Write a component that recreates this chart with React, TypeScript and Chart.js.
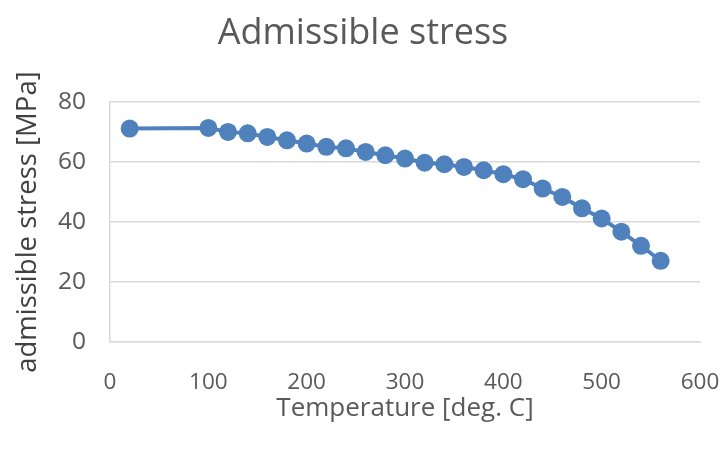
import React, { useEffect, useRef } from "react";
import { Chart, registerables } from "chart.js";

Chart.register(...registerables);

const temperatures = [20, 100, 120, 140, 160, 180, 200, 220, 240, 260, 280, 300, 320, 340, 360, 380, 400, 420, 440, 460, 480, 500, 520, 540, 560];
const stress = [71.2, 71.4, 70.1, 69.6, 68.4, 67.3, 66.2, 65.1, 64.6, 63.4, 62.3, 61.2, 59.8, 59.3, 58.4, 57.3, 56.0, 54.3, 51.2, 48.4, 44.6, 41.2, 36.8, 32.1, 27.1];
const chartTitle = "Admissible stress";
const xTitle = "Temperature [deg. C]";
const yTitle = "admissible stress [MPa]";

const FONT = "'Open Sans', sans-serif";
const BLUE = "#4f81bd";
const GRID = "#d9d9d9";
const TEXT = "#595959";

export default function App() {
  const ref = useRef<HTMLCanvasElement | null>(null);
  useEffect(() => {
    document.body.style.margin = "0";
    const canvas = ref.current;
    if (!canvas) return;
    const chart = new Chart(canvas, {
      type: "scatter",
      data: {
        datasets: [
          {
            data: temperatures.map((t, i) => ({ x: t, y: stress[i] })),
            showLine: true,
            borderColor: BLUE,
            backgroundColor: BLUE,
            borderWidth: 4,
            pointRadius: 9,
            pointHoverRadius: 9,
            pointBorderWidth: 0,
          },
        ],
      },
      options: {
        animation: false,
        responsive: false,
        maintainAspectRatio: false,
        layout: { padding: { left: 26, right: 22, top: 0, bottom: 26 } },
        plugins: {
          legend: { display: false },
          tooltip: { enabled: false },
          title: {
            display: true,
            text: chartTitle,
            color: TEXT,
            font: { family: FONT, size: 36, weight: "normal" },
            padding: { top: 12, bottom: 47 },
          },
        },
        scales: {
          x: {
            type: "linear",
            min: 0,
            max: 600,
            afterFit: (scale: any) => {
              scale.height = 82;
              scale.paddingRight = 0;
            },
            ticks: {
              stepSize: 100,
              color: TEXT,
              padding: 27,
              font: { family: FONT, size: 22.5 },
            },
            grid: { display: false, drawTicks: false },
            border: { display: true, color: GRID, width: 1.5 },
            title: {
              display: true,
              text: xTitle,
              color: TEXT,
              font: { family: FONT, size: 26 },
              padding: { top: 0, bottom: 0 },
            },
          },
          y: {
            type: "linear",
            min: 0,
            max: 80,
            afterFit: (scale: any) => {
              scale.width = 84;
            },
            ticks: {
              stepSize: 20,
              color: TEXT,
              padding: 24,
              font: { family: FONT, size: 24.5 },
            },
            grid: { color: GRID, lineWidth: 1.5, drawTicks: false },
            border: { display: true, color: GRID, width: 1.5 },
            title: {
              display: true,
              text: yTitle,
              color: "#404040",
              font: { family: FONT, size: 27.5 },
              padding: { top: -14.5, bottom: 0 },
            },
          },
        },
      },
    });
    return () => chart.destroy();
  }, []);
  return (
    <div style={{ width: 722, height: 450, background: "#fff" }}>
      <canvas ref={ref} width={722} height={450} style={{ width: 722, height: 450 }} />
    </div>
  );
}
